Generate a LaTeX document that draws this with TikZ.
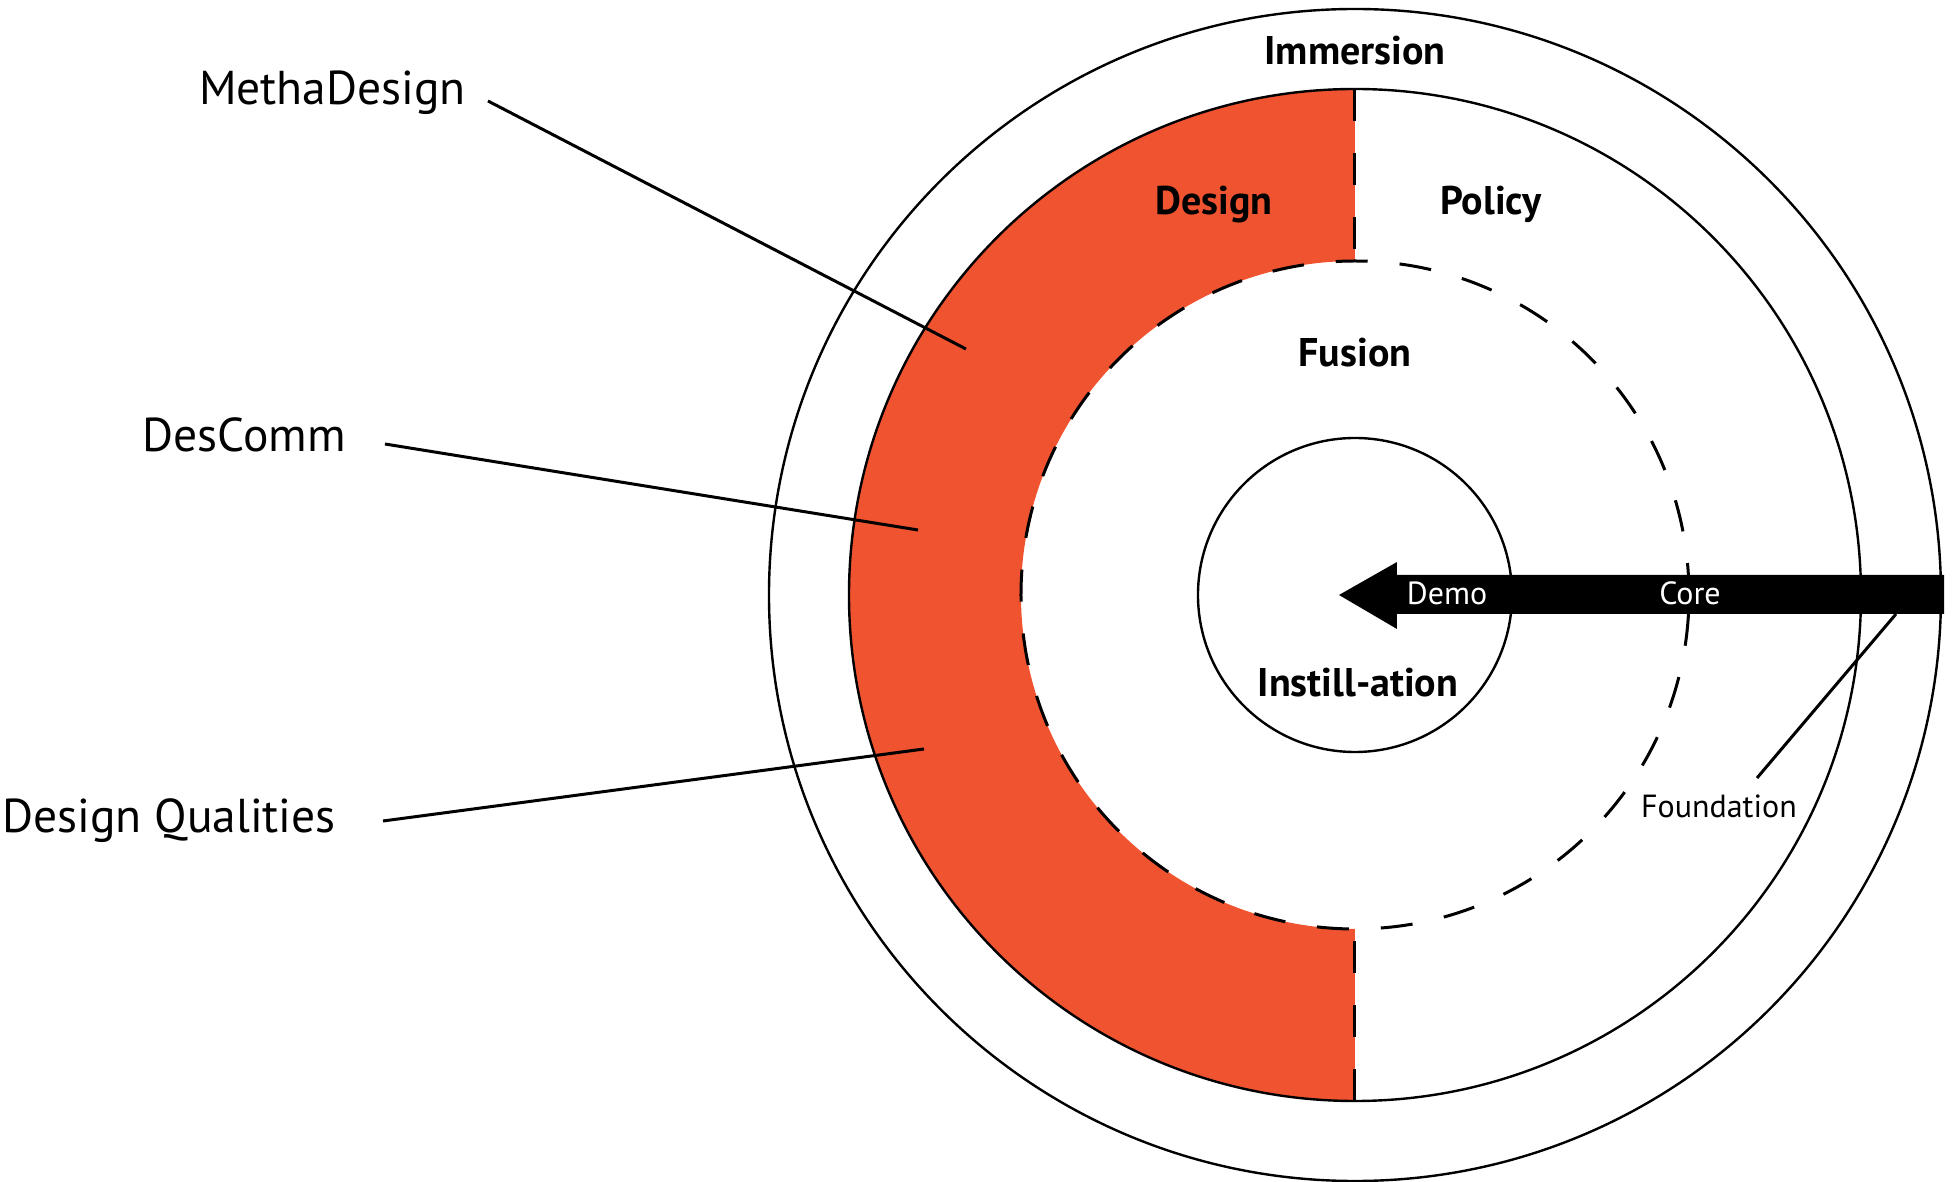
\documentclass[tikz,border=0pt]{standalone}
\usepackage{fontspec}
\setmainfont{PT Sans}
\usetikzlibrary{arrows}
\definecolor{desorange}{RGB}{239,83,47}

\begin{document}
\begin{tikzpicture}[x=1pt,y=1pt,
    ring/.style={line width=2.4pt},
    dash ring/.style={line width=3pt,dash pattern=on 32pt off 32pt},
    zone node/.style={font=\fontsize{40}{46}\selectfont\bfseries,inner sep=0pt,anchor=base},
    side node/.style={font=\fontsize{47.5}{56}\selectfont,inner sep=0pt,anchor=base east},
    small node/.style={font=\fontsize{32}{38}\selectfont,inner sep=0pt,anchor=base},
    lead/.style={line width=3pt}]
\useasboundingbox (-1355,-587) rectangle (597,595);

% design half ring
\fill[desorange] (90:506) arc (90:270:506) -- (270:334) arc (270:90:334) -- cycle;

\draw[ring] (0,0) circle (586);
\draw[ring] (0,0) circle (506);
\draw[dash ring] (0,0) circle (334);
\draw[ring] (0,0) circle (157);
\draw[dash ring] (0,506) -- (0,334);
\draw[dash ring] (0,-506) -- (0,-334);

% core arrow
\fill (589,20) -- (42,20) -- (42,33) -- (-16,0) -- (42,-34) -- (42,-19) -- (589,-19) -- cycle;

\node[zone node] (immersion) at (0,530) {Immersion};
\node[zone node] (design) at (-141,380) {Design};
\node[zone node] (policy) at (136,380) {Policy};
\node[zone node] (fusion) at (0,228) {Fusion};
\node[zone node] (instill) at (3,-102) {Instill-ation};

\node[small node,white] (demo) at (92,-10) {Demo};
\node[small node,white] (core) at (335,-10) {Core};
\node[small node] (found) at (364,-223) {Foundation};

\node[side node] (metha) at (-889,490) {MethaDesign};
\node[side node] (descomm) at (-1009,143) {DesComm};
\node[side node] (qual) at (-1019,-238) {Design Qualities};

\coordinate (methaend) at (-389,246);
\coordinate (descommend) at (-437,65);
\coordinate (qualend) at (-431,-154);
\coordinate (foundend) at (541,-19);

\path[lead]
  ([shift={(22,4)}]metha.base east) edge (methaend)
  ([shift={(39,8)}]descomm.base east) edge (descommend)
  ([shift={(47,12)}]qual.base east) edge (qualend);
\draw[lead] ([shift={(38,40)}]found.base) -- (foundend);
\end{tikzpicture}
\end{document}
